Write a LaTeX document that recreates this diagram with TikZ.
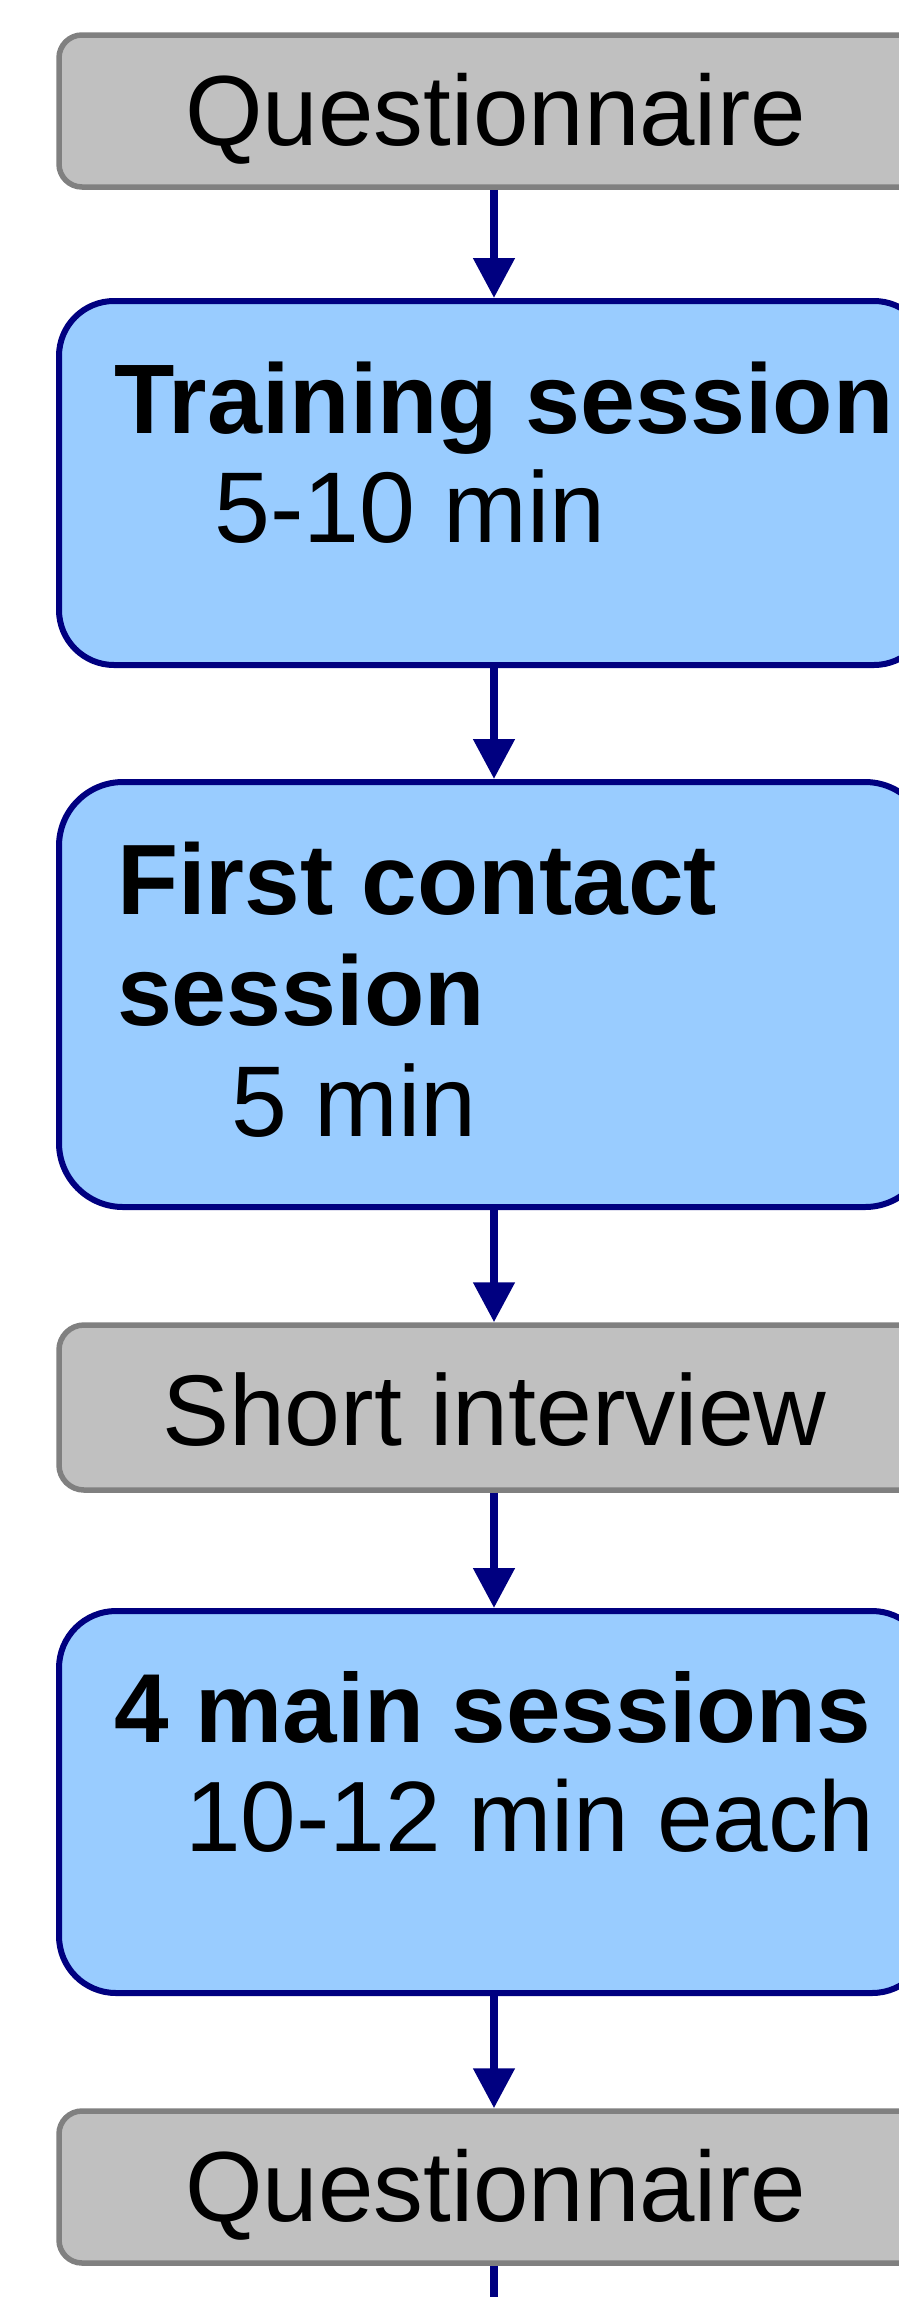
\documentclass[tikz,border=0pt]{standalone}
\usepackage{fontspec}
\setmainfont{Liberation Sans}
\usetikzlibrary{arrows.meta}
\definecolor{boxgray}{HTML}{C0C0C0}
\definecolor{bordergray}{HTML}{808080}
\definecolor{boxblue}{HTML}{99CCFF}
\definecolor{navyline}{HTML}{000080}
\begin{document}
\begin{tikzpicture}[x=1pt,y=-1pt,
  graybox/.style={draw=bordergray, fill=boxgray, line width=5.5pt, rounded corners=23pt, inner sep=0pt, minimum width=870pt},
  bluebox/.style={draw=navyline, fill=boxblue, line width=6pt, rounded corners=55pt, inner sep=0pt, minimum width=870pt},
  flow/.style={draw=navyline, line width=8pt, -{Triangle[width=40pt,length=40pt]}},
  flowend/.style={draw=navyline, line width=8pt},
  txt/.style={inner sep=0pt, outer sep=0pt, font=\fontsize{100.5}{120}\selectfont, anchor=base west},
  qtxt/.style={txt, font=\fontsize{99.7}{120}\selectfont},
  btxt/.style={txt, font=\fontsize{98.8}{120}\selectfont\bfseries}]
\useasboundingbox (0,0) rectangle (899,2297);
\clip (0,0) rectangle (899,2297);
\fill[white] (0,0) rectangle (899,2297);
% boxes
\node[graybox, minimum height=152pt] (q1) at (494,111) {};
\node[bluebox, minimum height=364pt] (train) at (494,483) {};
\node[bluebox, rounded corners=64pt, minimum height=425pt] (first) at (494,994.5) {};
\node[graybox, rounded corners=25pt, minimum height=165pt] (interview) at (494,1407.5) {};
\node[bluebox, rounded corners=57pt, minimum height=382pt] (mainsess) at (494,1802) {};
\node[graybox, minimum height=152pt] (q2) at (494,2187) {};
\coordinate (bottomend) at (494,2310);
% texts
\node[qtxt] (q1t) at (185,145) {Questionnaire};
\node[btxt] (trt) at (114,433) {Training session};
\node[txt] (trd) at (214.5,542) {5-10 min};
\node[btxt, font=\fontsize{100}{120}\selectfont\bfseries] (fct) at (117,914) {First contact};
\node[btxt] (fcs) at (117,1025) {session};
\node[txt] (fcd) at (231,1136) {5 min};
\node[txt] (sit) at (162,1445) {Short interview};
\node[btxt, font=\fontsize{98}{120}\selectfont\bfseries] (mst) at (114,1742) {4 main sessions};
\node[txt, font=\fontsize{100}{120}\selectfont] (msd) at (185,1851) {10-12 min each};
\node[qtxt] (q2t) at (185,2221) {Questionnaire};
% connectors
\draw[flow] (q1.south) -- (train.north);
\draw[flow] (train.south) -- (first.north);
\draw[flow] (first.south) -- (interview.north);
\draw[flow] (interview.south) -- (mainsess.north);
\draw[flow] (mainsess.south) -- (q2.north);
\draw[flowend] (q2.south) -- (bottomend);
\end{tikzpicture}
\end{document}
